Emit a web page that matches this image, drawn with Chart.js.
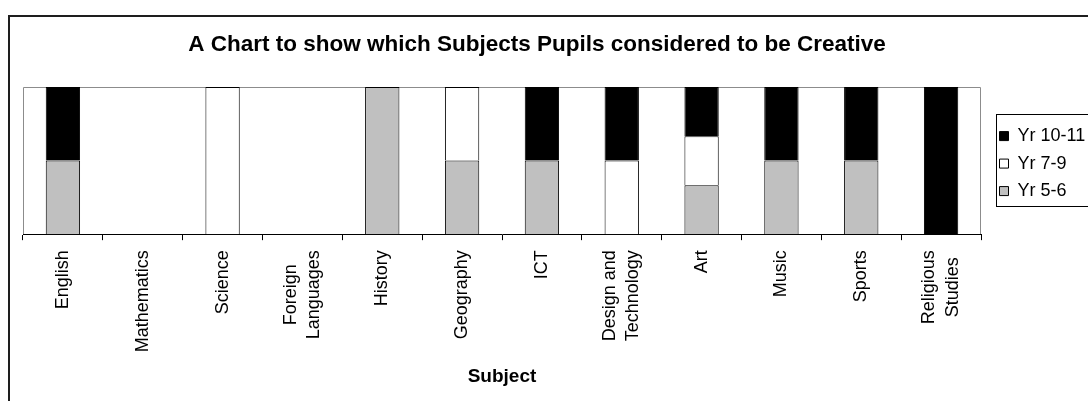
<!DOCTYPE html>
<html lang="en">
<head>
  <meta charset="UTF-8">
  <title>Creative subjects</title>
  <script src="https://cdn.jsdelivr.net/npm/chart.js"></script>
  <style>
    * { box-sizing: border-box; }
    html, body { margin:0; padding:0; background:#fff; overflow:hidden; }
    #wrap { position:relative; width:1088px; height:401px; overflow:hidden; }
    /* canvas is a bit wider than the page, shifted left so the title centres like the original */
    #chart { position:absolute; left:-30px; top:0; display:block; }
    #frame { position:absolute; left:8px; top:15px; width:1200px; height:500px; border:2px solid #1e1e1e; pointer-events:none; }
  </style>
</head>
<body>
  <div id="wrap">
    <canvas id="chart" width="1140" height="401"></canvas>
    <div id="frame"></div>
  </div>

  <script>
    // share of each year group (percent of the bar)
    const subjects = ['English', 'Mathematics', 'Science', ['Foreign', 'Languages'], 'History', 'Geography',
                      'ICT', ['Design and', 'Technology'], 'Art', 'Music', 'Sports', ['Religious', 'Studies']];
    const yr56   = [50, 0,   0, 0, 100, 50, 50,  0, 33.3, 50, 50,   0];
    const yr79   = [ 0, 0, 100, 0,   0, 50,  0, 50, 33.3,  0,  0,   0];
    const yr1011 = [50, 0,   0, 0,   0,  0, 50, 50, 33.4, 50, 50, 100];

    const FONT = "Arial, 'Liberation Sans', sans-serif";

    const decor = {
      id: 'decor',
      beforeDraw(chart) {
        const { ctx, chartArea: a } = chart;
        ctx.save();
        ctx.fillStyle = '#fff';
        ctx.fillRect(0, 0, chart.width, chart.height);
        // plot area frame (grey), bottom edge is the black axis
        ctx.strokeStyle = '#8c8c8c';
        ctx.lineWidth = 1;
        ctx.beginPath();
        ctx.moveTo(a.left + 0.5, a.bottom);
        ctx.lineTo(a.left + 0.5, a.top + 0.5);
        ctx.lineTo(a.right - 0.5, a.top + 0.5);
        ctx.lineTo(a.right - 0.5, a.bottom);
        ctx.stroke();

        // two-line category labels: centre the lines on the tick like Excel does
        const items = chart.scales.x.getLabelItems();
        items.forEach(it => {
          if (!Array.isArray(it.label) || it._centred) return;
          ctx.font = it.font.string;
          const w = Math.max(...it.label.map(s => ctx.measureText(s).width));
          const [tx, ty] = it.options.translation;
          it.options.translation = [tx - it.font.lineHeight * (it.label.length - 1) / 2, ty + w / 2];
          it.options.textAlign = 'center';
          it._centred = true;
        });
        ctx.restore();
      },
      afterDraw(chart) {
        const lg = chart.legend, hb = lg.legendHitBoxes;
        if (!hb || !hb.length) return;
        const { ctx } = chart;
        const top = hb[0].top - 13;
        const bottom = hb[hb.length - 1].top + hb[hb.length - 1].height + 6;
        ctx.save();
        ctx.strokeStyle = '#000';
        ctx.lineWidth = 1;
        ctx.strokeRect(lg.left + 6.5, Math.round(top) + 0.5, chart.width, Math.round(bottom - top));
        ctx.restore();
      }
    };

    const nz = arr => arr.map(v => v ? v : null);
    const blankAxis = w => ({
      display: true, grid: { display: false }, border: { display: false }, ticks: { display: false },
      afterFit: s => { s.width = w; }
    });

    new Chart(document.getElementById('chart').getContext('2d'), {
      type: 'bar',
      data: {
        labels: subjects,
        datasets: [
          { label: 'Yr 5-6',   data: nz(yr56),   backgroundColor: '#c0c0c0', borderColor: '#000', borderWidth: 1 },
          { label: 'Yr 7-9',   data: nz(yr79),   backgroundColor: '#ffffff', borderColor: '#000', borderWidth: 1 },
          { label: 'Yr 10-11', data: nz(yr1011), backgroundColor: '#000000', borderColor: '#000', borderWidth: 1 }
        ]
      },
      options: {
        responsive: false,
        animation: false,
        devicePixelRatio: 1,
        barPercentage: 0.43,
        categoryPercentage: 1.0,
        layout: { padding: { left: 14, right: 20, top: 0, bottom: 13 } },
        scales: {
          x: {
            stacked: true,
            grid: { display: true, drawOnChartArea: false, drawTicks: true, tickLength: 6, color: '#000', offset: true },
            border: { display: true, color: '#000', width: 1 },
            ticks: { color: '#000', font: { family: FONT, size: 18, lineHeight: 1.3 }, minRotation: 90, maxRotation: 90, padding: 10, autoSkip: false },
            title: { display: true, text: 'Subject', color: '#000', font: { family: FONT, size: 19, weight: 'bold' }, padding: { top: 3, bottom: 0 } }
          },
          y: Object.assign({ stacked: true, min: 0, max: 100, position: 'left' }, blankAxis(39)),
          gap: Object.assign({ type: 'linear', position: 'right' }, blankAxis(9))
        },
        plugins: {
          title: {
            display: true,
            text: 'A Chart to show which Subjects Pupils considered to be Creative',
            color: '#000',
            font: { family: FONT, size: 22.5, weight: 'bold' },
            padding: { top: 31, bottom: 29 }
          },
          legend: {
            position: 'right',
            fullSize: false,
            maxWidth: 100,
            reverse: true,
            title: { display: true, text: ' ', font: { size: 5 }, padding: 0 },
            labels: { color: '#000', font: { family: FONT, size: 18 }, boxWidth: 9, boxHeight: 9, padding: 9.5 }
          },
          tooltip: { enabled: false }
        }
      },
      plugins: [decor]
    });
  </script>
</body>
</html>
